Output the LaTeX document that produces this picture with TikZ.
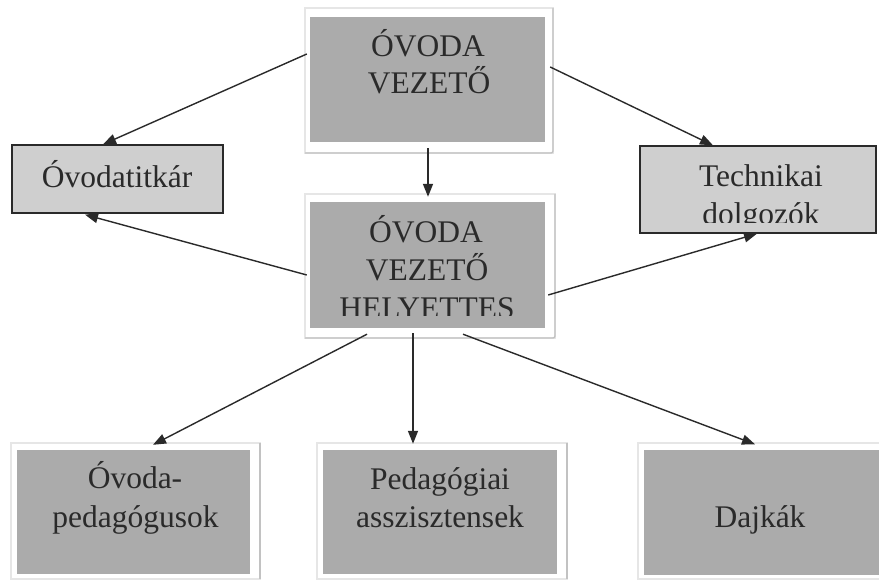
\documentclass[tikz,border=0pt]{standalone}
\usepackage{fontspec}
\setmainfont{Liberation Serif}
\usetikzlibrary{arrows.meta,calc}
\definecolor{boxdark}{HTML}{ABABAB}
\definecolor{boxlight}{HTML}{CFCFCF}
\definecolor{framegray}{HTML}{C2C2C2}
\definecolor{framefaint}{HTML}{E6E6E6}
\definecolor{inkgray}{HTML}{2A2A2A}
\begin{document}
\begin{tikzpicture}[x=1pt,y=-1pt,
  mainbox/.style={rectangle, fill=boxdark, draw=none, inner sep=0pt},
  sidebox/.style={rectangle, fill=boxlight, draw=inkgray, line width=1.3pt, inner sep=0pt},
  faintframe/.style={draw=framefaint, line width=1.2pt},
  shadowline/.style={draw=framegray, line width=1.4pt, rounded corners=2pt},
  txt/.style={font=\fontsize{31.5}{37}\selectfont, text=inkgray, inner sep=0pt, anchor=base},
  conn/.style={draw=inkgray, line width=1.4pt, -{Triangle[length=13pt,width=10pt]}}]
\useasboundingbox[fill=white] (0,0) rectangle (879,580);

% light frames around the dark boxes
\draw[faintframe] (305,8) rectangle (553,153);
\draw[shadowline] (553,8) -- (553,153) -- (305,153);
\draw[faintframe] (305,194) rectangle (555,338);
\draw[shadowline] (555,194) -- (555,338) -- (305,338);
\draw[faintframe] (11,443) rectangle (260,579);
\draw[shadowline] (260,443) -- (260,579);
\draw[faintframe] (317,443) rectangle (567,579);
\draw[shadowline] (567,443) -- (567,579);
\draw[faintframe] (638,443) rectangle (890,579);

% boxes
\node[mainbox, minimum width=235pt, minimum height=125pt] (top) at (427.5,79.5) {};
\node[sidebox, minimum width=211pt, minimum height=68pt] (ovt) at (117.5,179) {};
\node[sidebox, minimum width=236pt, minimum height=87pt] (tech) at (758,189.5) {};
\node[mainbox, minimum width=235pt, minimum height=126pt] (mid) at (427.5,265) {};
\node[mainbox, minimum width=233pt, minimum height=124pt] (b1) at (133.5,512) {};
\node[mainbox, minimum width=234pt, minimum height=124pt] (b2) at (440,512) {};
\node[mainbox, minimum width=235pt, minimum height=125pt] (b3) at (761.5,512) {};

% texts
\node[txt] (toptxta) at (428,57) {ÓVODA};
\node[txt] (toptxtb) at (429,94) {VEZETŐ};
\node[txt] (ovttxt) at (117,188) {Óvodatitkár};
\node[txt] (techtxta) at (761,187) {Technikai};
\begin{scope}
  \clip (640,146) rectangle (876,223);
  \node[txt] (techtxtb) at (761,225) {dolgozók};
\end{scope}
\node[txt] (midtxta) at (426,243) {ÓVODA};
\node[txt] (midtxtb) at (427,281) {VEZETŐ};
\begin{scope}
  \clip (310,202) rectangle (545,316);
  \node[txt] (midtxtc) at (427,319) {HELYETTES};
\end{scope}
\node[txt] (b1txta) at (135,488) {Óvoda-};
\node[txt] (b1txtb) at (135.5,527) {pedagógusok};
\node[txt] (b2txta) at (440,489) {Pedagógiai};
\node[txt] (b2txtb) at (440,527) {asszisztensek};
\node[txt] (b3txt) at (760,527) {Dajkák};

% connectors
\draw[conn] ($(top.west)+(-3,-25.5)$) -- ($(ovt.north)+(-14.5,0)$);
\draw[conn] ($(top.east)+(5,-12.5)$) -- ($(tech.north)+(-45,0)$);
\draw[conn] ($(top.south)+(0.5,6)$) -- ($(mid.north)+(0.5,-5)$);
\draw[conn] ($(mid.west)+(-3,10)$) -- ($(ovt.south)+(-32.5,1)$);
\draw[conn] ($(mid.east)+(3,30)$) -- ($(tech.south)+(-1,0)$);
\draw[conn] ($(mid.south)+(-60.5,6)$) -- ($(b1.north)+(19.5,-5)$);
\draw[conn] ($(mid.south)+(-14.5,5)$) -- ($(b2.north)+(-27,-6)$);
\draw[conn] ($(mid.south)+(35.5,6)$) -- ($(b3.north)+(-6.5,-5)$);
\end{tikzpicture}
\end{document}
